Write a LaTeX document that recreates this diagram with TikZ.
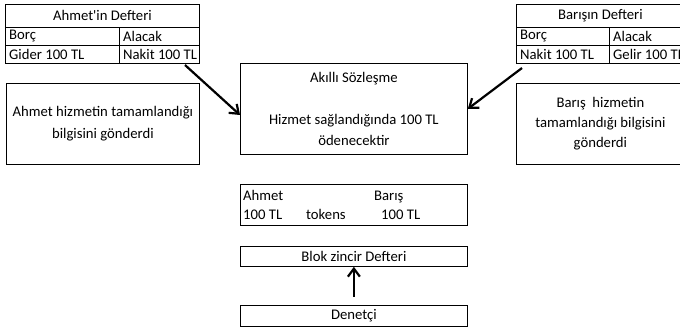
\documentclass[tikz,border=0pt]{standalone}
\usepackage{fontspec}
\setmainfont{Carlito}
\usetikzlibrary{arrows.meta}

\begin{document}
\begin{tikzpicture}[x=1pt,y=-1pt,
        font=\fontsize{14.7}{20}\selectfont,
        cell/.style={draw, line width=0.8pt, anchor=north west, inner sep=0, minimum height=18},
        celltext/.style={anchor=west, inner xsep=4, inner ysep=0},
        box/.style={draw, line width=0.8pt, anchor=north west, inner sep=0, align=center},
        word/.style={anchor=base west, inner sep=0},
        arrow/.style={-{Straight Barb[length=8,width=12]}, line width=2.2}]
        \useasboundingbox (0,0) rectangle (680,328);
        \clip (0,0) rectangle (680,328);

        %ahmet's ledger
        \node[cell, minimum width=194, minimum height=23] (ahmethead) at (5,4) {Ahmet\textquotesingle in Defteri};
        \node[cell, minimum width=114, label={[celltext]west:Borç}] (ahmetdebit) at (5,27) {};
        \node[cell, minimum width=80, label={[celltext]west:Alacak}] (ahmetcredit) at (119,27) {};
        \node[cell, minimum width=114, label={[celltext]west:Gider 100 TL}] (ahmetexpense) at (5,45) {};
        \node[cell, minimum width=80, label={[celltext]west:Nakit 100 TL}] (ahmetcash) at (119,45) {};

        %baris's ledger
        \node[cell, minimum width=168, minimum height=23] (barishead) at (516,4) {Barışın Defteri};
        \node[cell, minimum width=93, label={[celltext]west:Borç}] (barisdebit) at (516,27) {};
        \node[cell, minimum width=75, label={[celltext]west:Alacak}] (bariscredit) at (609,27) {};
        \node[cell, minimum width=93, label={[celltext]west:Nakit 100 TL}] (bariscash) at (516,45) {};
        \node[cell, minimum width=75, label={[celltext]west:Gelir 100 TL}] (barisincome) at (609,45) {};

        %messages
        \node[box, minimum width=193, minimum height=81, font=\fontsize{14.7}{22}\selectfont] (ahmetmsg) at (6,83)
            {Ahmet hizmetin tamamlandığı\\bilgisini gönderdi};
        \node[box, minimum width=168, minimum height=81] (barismsg) at (516,83)
            {Barış\ \ hizmetin\\tamamlandığı bilgisini\\gönderdi};

        %smart contract
        \node[box, minimum width=227, minimum height=91, font=\fontsize{14.7}{21}\selectfont] (smart) at (240,63)
            {Akıllı Sözleşme\\[21pt]Hizmet sağlandığında 100 TL\\ödenecektir};

        %tokens
        \node[box, minimum width=227, minimum height=41] (tokens) at (240,184) {};
        \node[word] (tokahmet) at (243,201) {Ahmet};
        \node[word] (tokbaris) at (374,201) {Barış};
        \node[word] (tokahmetsum) at (243,220) {100 TL};
        \node[word] (tokname) at (306,220) {tokens};
        \node[word] (tokbarissum) at (381,220) {100 TL};

        %chain and auditor
        \node[box, minimum width=227, minimum height=20] (chain) at (240,246) {Blok zincir Defteri};
        \node[box, minimum width=227, minimum height=21] (audit) at (240,305) {Denetçi};

        %arrows
        \coordinate (ahmetout) at (185,65);
        \coordinate (smartin) at (240,115);
        \coordinate (barisout) at (522,68);
        \draw[arrow] (ahmetout) -- (smartin);
        \draw[arrow] (barisout) -- (smart.east);
        \draw[arrow, shorten <=8] (audit.north) -- (chain.south);
\end{tikzpicture}
\end{document}
